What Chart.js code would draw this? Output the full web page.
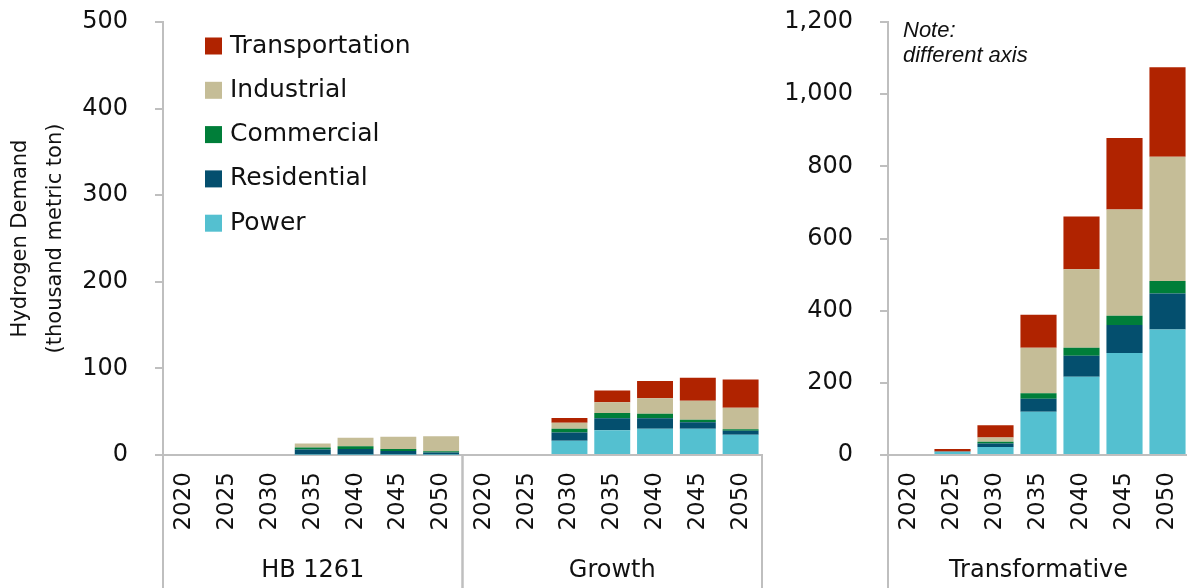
<!DOCTYPE html>
<html>
<head>
<meta charset="utf-8">
<script src="https://cdn.jsdelivr.net/npm/chart.js@4"></script>
<style>
  html, body { margin: 0; padding: 0; background: #fff; overflow: hidden; }
  #wrap { position: relative; width: 1187px; height: 588px; overflow: hidden; }
  #left { position: absolute; left: 0; top: 0; }
  #right { position: absolute; left: 770px; top: 0; }
</style>
</head>
<body>
<div id="wrap">
  <canvas id="left" width="770" height="588"></canvas>
  <canvas id="right" width="430" height="588"></canvas>
</div>
<script>
// years shown under every scenario
var years = ['2020', '2025', '2030', '2035', '2040', '2045', '2050']
var leftGroups = ['HB 1261', 'Growth']
var rightGroups = ['Transformative']
var seriesNames = ['Power', 'Residential', 'Commercial', 'Industrial', 'Transportation']
var seriesColors = ['#54C0D0', '#044F6E', '#007E39', '#C5BD97', '#B02300']

// thousand metric ton
var hbPower = [0, 0, 0, 0.5, 0.5, 0.5, 0.5]
var hbResidential = [0, 0, 0, 5.8, 6.5, 4, 2.3]
var hbCommercial = [0, 0, 0, 2.3, 3, 2.3, 1.5]
var hbIndustrial = [0, 0, 0, 4.8, 10, 14.2, 17.3]
var hbTransportation = [0, 0, 0, 0, 0, 0, 0]

var growthPower = [0, 0, 16.5, 28.5, 30.4, 30.4, 23.5]
var growthResidential = [0, 0, 9.6, 13.9, 11.9, 7.3, 4.6]
var growthCommercial = [0, 0, 4.2, 6.2, 5.4, 3.1, 1.5]
var growthIndustrial = [0, 0, 6.9, 12.3, 17.7, 21.9, 25]
var growthTransportation = [0, 0, 5.4, 13.5, 20, 26.6, 32.7]

var transPower = [0, 9, 22, 120, 217, 282.5, 348]
var transResidential = [0, 0.5, 10, 36, 58, 77.5, 99.7]
var transCommercial = [0, 0, 4.6, 14.8, 22, 25.8, 34.2]
var transIndustrial = [0, 0.5, 12, 126.5, 218, 294.5, 345]
var transTransportation = [0, 6.5, 34, 91.4, 146, 198.5, 247.4]

var leftTicks = [0, 100, 200, 300, 400, 500]
var rightTicks = [0, 200, 400, 600, 800, 1000, 1200]

var FONT = 'DejaVu Sans'
var TEXT = '#111111'
var AXIS = '#bfbfbf'

function makeDatasets(rows) {
    return rows.map(function (vals, i) {
        return {
            label: seriesNames[i],
            data: vals,
            backgroundColor: seriesColors[i],
            borderWidth: 0,
            categoryPercentage: 1,
            barPercentage: 0.84
        }
    })
}

// group labels + separators under the year ticks
var groupPlugin = {
    id: 'groups',
    afterDraw: function (chart, args, opts) {
        var x = chart.scales.x
        var ctx = chart.ctx
        var per = opts.per
        var half = (x.getPixelForValue(1) - x.getPixelForValue(0)) / 2
        ctx.save()
        ctx.strokeStyle = AXIS
        ctx.lineWidth = 2
        ctx.fillStyle = TEXT
        ctx.font = '24px "' + FONT + '"'
        ctx.textAlign = 'center'
        ctx.textBaseline = 'middle'
        opts.names.forEach(function (name, g) {
            var l = x.getPixelForValue(g * per) - half
            var r = x.getPixelForValue(g * per + per - 1) + half
            ;[l, r].forEach(function (px) {
                ctx.beginPath()
                ctx.moveTo(px, x.top)
                ctx.lineTo(px, chart.height)
                ctx.stroke()
            })
            ctx.fillText(name, (l + r) / 2, 571)
        })
        ctx.restore()
    }
}

var legendPlugin = {
    id: 'boxLegend',
    afterDraw: function (chart, args, opts) {
        if (!opts.show) return
        var ctx = chart.ctx
        var area = chart.chartArea
        ctx.save()
        ctx.font = '25px "' + FONT + '"'
        ctx.textBaseline = 'middle'
        ctx.textAlign = 'left'
        var items = chart.data.datasets.slice().reverse()
        items.forEach(function (ds, i) {
            var cy = area.top + 24 + i * 44.3
            ctx.fillStyle = ds.backgroundColor
            ctx.fillRect(area.left + 42, cy - 8.5, 17, 17)
            ctx.fillStyle = TEXT
            ctx.fillText(ds.label, area.left + 67, cy)
        })
        ctx.restore()
    }
}

var notePlugin = {
    id: 'note',
    afterDraw: function (chart, args, opts) {
        if (!opts.lines) return
        var ctx = chart.ctx
        ctx.save()
        ctx.font = 'italic 22px "Liberation Sans"'
        ctx.fillStyle = TEXT
        ctx.textBaseline = 'alphabetic'
        ctx.fillText(opts.lines[0], chart.chartArea.left + 15, 37)
        ctx.fillText(opts.lines[1], chart.chartArea.left + 15, 62)
        ctx.restore()
    }
}

function makeChart(id, labels, datasets, yMax, yStep, yWidth, padRight, groups, extra) {
    return new Chart(document.getElementById(id), {
        type: 'bar',
        data: { labels: labels, datasets: datasets },
        plugins: [groupPlugin, legendPlugin, notePlugin],
        options: {
            responsive: false,
            animation: false,
            layout: { padding: { top: 22, right: padRight, bottom: 0, left: 0 } },
            plugins: {
                legend: { display: false },
                tooltip: { enabled: false },
                groups: { names: groups, per: years.length },
                boxLegend: { show: extra.legend },
                note: { lines: extra.note }
            },
            scales: {
                x: {
                    stacked: true,
                    grid: { display: false, drawTicks: false, tickLength: 0 },
                    border: { display: true, color: AXIS, width: 2 },
                    ticks: {
                        minRotation: 90, maxRotation: 90, autoSkip: false,
                        padding: 17, color: TEXT,
                        font: { family: FONT, size: 23 }
                    },
                    afterFit: function (s) {
                        s.height = 133
                        s.paddingLeft = 0
                        s.paddingRight = 0
                    }
                },
                y: {
                    stacked: true,
                    min: 0, max: yMax,
                    grid: { drawOnChartArea: false, drawTicks: true, tickLength: 8, color: AXIS, lineWidth: 2 },
                    border: { display: true, color: AXIS, width: 2 },
                    ticks: {
                        stepSize: yStep, padding: 27, color: TEXT,
                        font: { family: FONT, size: 24 },
                        callback: function (v) { return v.toLocaleString('en-US') }
                    },
                    title: {
                        display: !!extra.title,
                        text: extra.title,
                        color: TEXT,
                        font: { family: FONT, size: 21, lineHeight: 1.67 },
                        padding: { top: 3, bottom: 0 }
                    },
                    afterFit: function (s) {
                        s.width = yWidth
                        s.paddingTop = 0
                        s.paddingBottom = 0
                    }
                }
            }
        }
    })
}

var leftLabels = years.concat(years)
var leftData = makeDatasets([
    hbPower.concat(growthPower),
    hbResidential.concat(growthResidential),
    hbCommercial.concat(growthCommercial),
    hbIndustrial.concat(growthIndustrial),
    hbTransportation.concat(growthTransportation)
])
var rightData = makeDatasets([transPower, transResidential, transCommercial, transIndustrial, transTransportation])

makeChart('left', leftLabels, leftData, leftTicks[leftTicks.length - 1], leftTicks[1] - leftTicks[0], 163, 8, leftGroups,
    { legend: true, title: ['Hydrogen Demand', '(thousand metric ton)'] })
makeChart('right', years, rightData, rightTicks[rightTicks.length - 1], rightTicks[1] - rightTicks[0], 118, 11, rightGroups,
    { legend: false, note: ['Note:', 'different axis'] })
</script>
</body>
</html>
